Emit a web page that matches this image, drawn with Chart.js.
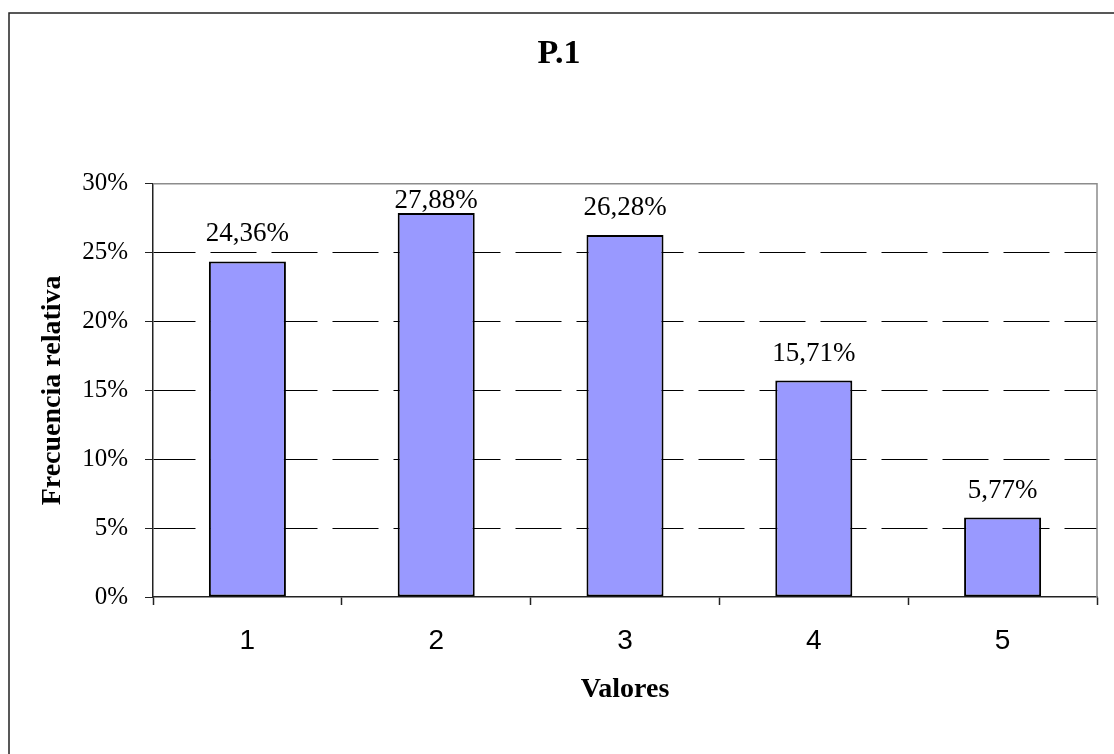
<!DOCTYPE html>
<html>
<head>
<meta charset="utf-8">
<title>P.1</title>
<script src="https://cdn.jsdelivr.net/npm/chart.js@4.4.1/dist/chart.umd.min.js"></script>
<style>
    html, body { margin: 0; padding: 0; background: #fff; }
    #wrap { width: 1114px; height: 754px; position: relative; }
</style>
</head>
<body>
<div id="wrap"><canvas id="chart"></canvas></div>
<script>
const categories = ['1', '2', '3', '4', '5'];
const frecuencias = [24.36, 27.88, 26.28, 15.71, 5.77];
const yTicks = [0, 5, 10, 15, 20, 25, 30];

const serif = "'Liberation Serif', 'Times New Roman', serif";
const sans = "'Liberation Sans', Arial, sans-serif";

// outer frame (only left and top edges are visible in the picture)
const framePlugin = {
    id: 'frame',
    beforeDraw(chart) {
        const ctx = chart.ctx;
        ctx.save();
        ctx.strokeStyle = '#222';
        ctx.lineWidth = 1.5;
        ctx.beginPath();
        ctx.moveTo(9, chart.height);
        ctx.lineTo(9, 13);
        ctx.lineTo(chart.width, 13);
        ctx.stroke();
        ctx.restore();
    }
};

// grey border on top and right of the plot area
const plotBorder = {
    id: 'plotBorder',
    beforeDatasetsDraw(chart) {
        const { ctx, chartArea: a } = chart;
        ctx.save();
        ctx.strokeStyle = '#8c8c8c';
        ctx.lineWidth = 1.5;
        ctx.beginPath();
        ctx.moveTo(a.left, a.top);
        ctx.lineTo(a.right, a.top);
        ctx.lineTo(a.right, a.bottom);
        ctx.stroke();
        ctx.restore();
    }
};

// value labels above the bars
const valueLabels = {
    id: 'valueLabels',
    afterDatasetsDraw(chart) {
        const { ctx, chartArea: a } = chart;
        const meta = chart.getDatasetMeta(0);
        ctx.save();
        ctx.font = '27px ' + serif;
        ctx.fillStyle = '#000';
        ctx.textAlign = 'center';
        ctx.textBaseline = 'alphabetic';
        meta.data.forEach((bar, i) => {
            const txt = frecuencias[i].toFixed(2).replace('.', ',') + '%';
            const y = Math.max(bar.y - 20, a.top + 24);
            ctx.fillText(txt, bar.x, y);
        });
        ctx.restore();
    }
};

new Chart(document.getElementById('chart'), {
    type: 'bar',
    data: {
        labels: categories,
        datasets: [{
            data: frecuencias,
            backgroundColor: '#9999ff',
            borderColor: '#000',
            borderWidth: 2,
            borderSkipped: false,
            barPercentage: 0.408,
            categoryPercentage: 1
        }]
    },
    options: {
        responsive: true,
        maintainAspectRatio: false,
        animation: false,
        layout: { padding: { left: 21, right: 17, top: 0, bottom: 0 } },
        plugins: {
            legend: { display: false },
            tooltip: { enabled: false },
            title: {
                display: true,
                text: 'P.1',
                color: '#000',
                font: { family: serif, size: 34, weight: 'bold' },
                padding: { top: 34, bottom: 109 }
            }
        },
        scales: {
            x: {
                afterFit: s => { s.height = 157; },
                grid: {
                    drawOnChartArea: false,
                    drawTicks: true,
                    tickLength: 8,
                    tickColor: '#222',
                    tickWidth: 1.5
                },
                border: { color: '#222', width: 1.5 },
                ticks: {
                    color: '#000',
                    padding: 19,
                    font: { family: sans, size: 28 }
                },
                title: {
                    display: true,
                    text: 'Valores',
                    color: '#000',
                    font: { family: serif, size: 28, weight: 'bold' },
                    padding: { bottom: 47 }
                }
            },
            y: {
                min: 0,
                max: 30,
                afterFit: s => { s.width = 132; },
                afterBuildTicks: s => { s.ticks = yTicks.map(v => ({ value: v })); },
                grid: {
                    color: c => (c.tick && (c.tick.value === 0 || c.tick.value === 30)) ? 'rgba(0,0,0,0)' : '#000',
                    lineWidth: 1,
                    tickLength: 8,
                    tickColor: '#222'
                },
                border: { color: '#222', width: 1.5, dash: [46, 15], dashOffset: 4 },
                ticks: {
                    color: '#000',
                    padding: 17,
                    font: { family: serif, size: 25 },
                    callback: v => v + '%'
                },
                title: {
                    display: true,
                    text: 'Frecuencia relativa',
                    color: '#000',
                    font: { family: serif, size: 28, weight: 'bold' },
                    padding: { top: 15 }
                }
            }
        }
    },
    plugins: [framePlugin, plotBorder, valueLabels]
});
</script>
</body>
</html>
